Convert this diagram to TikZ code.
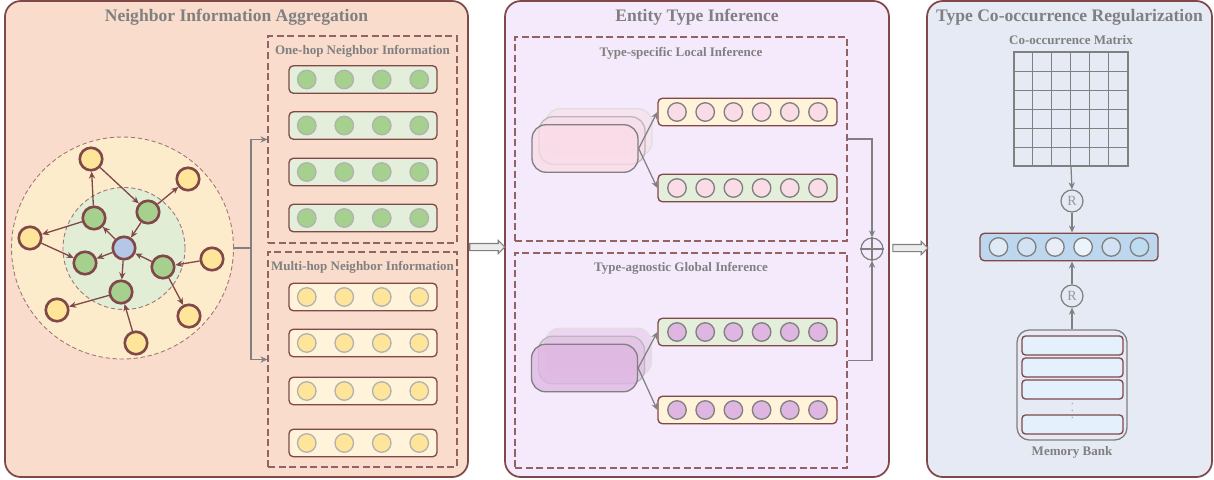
\documentclass[tikz,border=0pt]{standalone}
\usepackage{fontspec}
\setmainfont{Liberation Serif}
\definecolor{edgebrown}{RGB}{128, 72, 72}
\definecolor{titlegray}{RGB}{128, 128, 128}
\definecolor{aggbg}{RGB}{249, 220, 203}
\definecolor{infbg}{RGB}{244, 234, 252}
\definecolor{regbg}{RGB}{229, 234, 245}
\definecolor{nbgreen}{RGB}{166, 208, 141}
\definecolor{vecgreen}{RGB}{227, 239, 218}
\definecolor{nbyellow}{RGB}{255, 229, 153}
\definecolor{vecyellow}{RGB}{255, 243, 217}
\definecolor{hopouter}{RGB}{253, 236, 204}
\definecolor{hopinner}{RGB}{226, 237, 214}
\definecolor{centerblue}{RGB}{180, 199, 231}
\definecolor{localpink}{RGB}{250, 220, 230}
\definecolor{globalpurple}{RGB}{222, 182, 225}
\definecolor{vecblue}{RGB}{189, 215, 238}
\definecolor{slotblue}{RGB}{228, 240, 251}
\definecolor{tone1}{RGB}{222, 235, 247}
\definecolor{tone2}{RGB}{210, 226, 243}
\definecolor{tone3}{RGB}{232, 237, 247}
\definecolor{tone4}{RGB}{236, 244, 251}
\definecolor{tone5}{RGB}{189, 220, 240}
\usepackage{tikz}
\usetikzlibrary{shapes.arrows, arrows.meta, positioning, calc}

\begin{document}
\begin{tikzpicture}[
    panel/.style={draw=edgebrown, line width=1pt, rounded corners=9pt, minimum height=9.52cm},
    paneltitle/.style={font=\fontsize{10}{12}\selectfont\bfseries, text=titlegray},
    subtitle/.style={font=\fontsize{7.4}{9}\selectfont\bfseries, text=titlegray},
    dashbox/.style={draw=edgebrown!85, line width=0.6pt, dash pattern=on 4pt off 2pt},
    hopring/.style={circle, draw=edgebrown!75, line width=0.5pt, dash pattern=on 2.5pt off 1.5pt},
    vecbox/.style={draw=edgebrown, line width=0.75pt, rounded corners=2.5pt, minimum height=0.55cm},
    cell/.style={circle, draw=gray!60, line width=0.75pt, minimum size=0.37cm, inner sep=0pt},
    gnode/.style={circle, draw=edgebrown, line width=1.5pt, minimum size=0.45cm, inner sep=0pt},
    garrow/.style={-{Stealth[length=4pt, width=3.5pt]}, edgebrown, line width=0.75pt},
    flow/.style={-{Stealth[length=4pt, width=3.5pt]}, titlegray, line width=0.7pt},
    bigarrow/.style={single arrow, draw=gray, fill=gray!15, line width=0.6pt, minimum height=0.7cm, single arrow head extend=0.06cm, inner xsep=0pt, inner ysep=0.06cm},
    embed/.style={line width=0.75pt, rounded corners=8pt, minimum width=2.12cm, minimum height=0.95cm},
    rnode/.style={circle, draw=gray, line width=0.7pt, minimum size=0.44cm, inner sep=0pt, text=gray!80, font=\fontsize{8}{8}\selectfont},
    gridline/.style={gray, line width=0.75pt}
  ]
  \useasboundingbox (0, 0) rectangle (24.28, -9.58);

  % Three panels
  \node[panel, fill=aggbg, minimum width=9.26cm] (agg) at (4.73, -4.78) {};
  \node[panel, fill=infbg, minimum width=7.68cm] (inf) at (13.94, -4.78) {};
  \node[panel, fill=regbg, minimum width=5.70cm] (reg) at (21.39, -4.78) {};
  \node[paneltitle] (aggtitle) at ($(agg.north)+(0, -0.35)$) {Neighbor Information Aggregation};
  \node[paneltitle] (inftitle) at ($(inf.north)+(0, -0.35)$) {Entity Type Inference};
  \node[paneltitle] (regtitle) at ($(reg.north)+(0, -0.35)$) {Type Co-occurrence Regularization};

  % Neighbor graph
  \node[hopring, fill=hopouter, minimum size=4.44cm] (outer) at (2.45, -4.96) {};
  \node[hopring, fill=hopinner, minimum size=2.44cm] (inner) at (2.48, -4.97) {};
  \node[gnode, fill=centerblue] (ctr) at (2.48, -4.96) {};
  \foreach \name/\x/\y in {g1/1.88/-4.36, g2/2.96/-4.24, g3/1.70/-5.26, g4/3.26/-5.34, g5/2.42/-5.84}
    \node[gnode, fill=nbgreen] (\name) at (\x, \y) {};
  \foreach \name/\x/\y in {y1/1.82/-3.18, y2/3.76/-3.58, y3/0.60/-4.76, y4/4.24/-5.18, y5/1.14/-6.20, y6/3.78/-6.32, y7/2.72/-6.86}
    \node[gnode, fill=nbyellow] (\name) at (\x, \y) {};
  \foreach \a/\b in {ctr/g1, g2/ctr, ctr/g3, g4/ctr, ctr/g5, g1/y1, y1/g2, g2/y2, g1/y3, y3/g3, y4/g4, g4/y6, g5/y5, y7/g5}
    \draw[garrow] (\a) -- (\b);

  % One-hop and multi-hop neighbor vectors
  \node[dashbox, minimum width=3.78cm, minimum height=4.14cm] (onehop) at (7.25, -2.79) {};
  \node[subtitle] (onehoptitle) at ($(onehop.north)+(0, -0.31)$) {One-hop Neighbor Information};
  \node[dashbox, minimum width=3.78cm, minimum height=4.30cm] (multihop) at (7.25, -7.19) {};
  \node[subtitle] (multihoptitle) at ($(multihop.north)+(0, -0.31)$) {Multi-hop Neighbor Information};
  \foreach \i/\y in {1/-1.59, 2/-2.51, 3/-3.44, 4/-4.36} {
    \node[vecbox, fill=vecgreen, minimum width=2.96cm] (oh\i) at (7.26, \y) {};
    \foreach \j/\dx in {1/-1.125, 2/-0.375, 3/0.375, 4/1.125}
      \node[cell, fill=nbgreen] (oh\i-\j) at ($(oh\i)+(\dx, 0)$) {};
  }
  \foreach \i/\y in {1/-5.94, 2/-6.86, 3/-7.82, 4/-8.86} {
    \node[vecbox, fill=vecyellow, minimum width=2.96cm] (mh\i) at (7.26, \y) {};
    \foreach \j/\dx in {1/-1.125, 2/-0.375, 3/0.375, 4/1.125}
      \node[cell, fill=nbyellow] (mh\i-\j) at ($(mh\i)+(\dx, 0)$) {};
  }
  \draw[flow] (outer.east) -- ++(0.34, 0) coordinate (split) |- (onehop.west);
  \draw[flow] (split) |- (multihop.west);

  % Local and global inference
  \node[dashbox, minimum width=6.64cm, minimum height=4.08cm] (localbox) at (13.62, -2.78) {};
  \node[subtitle] (localtitle) at ($(localbox.north)+(0, -0.33)$) {Type-specific Local Inference};
  \node[dashbox, minimum width=6.64cm, minimum height=4.30cm] (globalbox) at (13.62, -7.21) {};
  \node[subtitle] (globaltitle) at ($(globalbox.north)+(0, -0.31)$) {Type-agnostic Global Inference};

  \node[embed, draw=gray!25, fill=localpink, fill opacity=0.5] (lemb3) at (11.98, -2.65) {};
  \node[embed, draw=gray!55, fill=localpink, fill opacity=0.6] (lemb2) at (11.84, -2.81) {};
  \node[embed, draw=gray, fill=localpink, fill opacity=0.75] (lemb1) at (11.70, -2.97) {};
  \node[embed, draw=gray!25, fill=globalpurple, fill opacity=0.4] (gemb3) at (11.97, -7.04) {};
  \node[embed, draw=gray!55, fill=globalpurple, fill opacity=0.5] (gemb2) at (11.83, -7.20) {};
  \node[embed, draw=gray, fill=globalpurple, fill opacity=0.75] (gemb1) at (11.69, -7.36) {};

  \foreach \v/\y/\bg/\fg in {lv1/-2.24/vecyellow/localpink, lv2/-3.76/vecgreen/localpink, gv1/-6.64/vecgreen/globalpurple, gv2/-8.20/vecyellow/globalpurple} {
    \node[vecbox, fill=\bg, minimum width=3.58cm] (\v) at (14.95, \y) {};
    \foreach \j/\dx in {1/-1.41, 2/-0.846, 3/-0.282, 4/0.282, 5/0.846, 6/1.41}
      \node[cell, draw=gray, fill=\fg] (\v-\j) at ($(\v)+(\dx, 0)$) {};
  }
  \draw[flow] (lemb1.east) -- (lv1.west);
  \draw[flow] (lemb1.east) -- (lv2.west);
  \draw[flow] (gemb1.east) -- (gv1.west);
  \draw[flow] (gemb1.east) -- (gv2.west);

  % Combine
  \node[circle, draw=gray, line width=0.7pt, minimum size=0.44cm, inner sep=0pt] (oplus) at (17.44, -4.98) {};
  \draw[gray, line width=0.7pt] (oplus.north) -- (oplus.south) (oplus.west) -- (oplus.east);
  \draw[flow] (localbox.east) -| (oplus.north);
  \draw[flow] (globalbox.east) -| (oplus.south);

  % Between panels
  \node[bigarrow] (hand1) at (9.71, -4.94) {};
  \node[bigarrow] (hand2) at (18.17, -4.96) {};

  % Co-occurrence matrix
  \node[draw=gray, line width=0.75pt, minimum width=2.28cm, minimum height=2.28cm, inner sep=0pt] (comat) at (21.42, -2.18) {};
  \draw[gridline, shift={(comat.south west)}, xstep=0.38, ystep=0.38] (0, 0) grid (2.28, 2.28);
  \node[subtitle, above=0pt of comat] (comattitle) {Co-occurrence Matrix};

  % Type vector
  \node[rnode] (rco) at (21.44, -4.02) {R};
  \node[vecbox, fill=vecblue, minimum width=3.56cm] (typevec) at (21.38, -4.94) {};
  \foreach \j/\dx/\tone in {1/-1.41/tone1, 2/-0.846/tone2, 3/-0.282/tone3, 4/0.282/tone4, 5/0.846/tone2, 6/1.41/tone5}
    \node[cell, draw=gray, fill=\tone] (typevec-\j) at ($(typevec)+(\dx, 0)$) {};
  \node[rnode] (rmem) at (21.44, -5.92) {R};
  \draw[flow] (comat.south) -- (rco.north);
  \draw[flow] (rco) -- (rco |- typevec.north);
  \draw[flow] (rmem) -- (rmem |- typevec.south);

  % Memory bank
  \node[draw=gray, line width=0.75pt, rounded corners=7pt, minimum width=2.2cm, minimum height=2.2cm] (membank) at (21.44, -7.7) {};
  \foreach \s/\y in {1/-6.91, 2/-7.35, 3/-7.79, 4/-8.49}
    \node[draw=edgebrown, line width=0.75pt, fill=slotblue, rounded corners=2pt, minimum width=2.02cm, minimum height=0.38cm] (slot\s) at (21.45, \y) {};
  \node[text=gray!70, font=\scriptsize, inner sep=0pt] (slotdots) at (21.45, -8.12) {$\vdots$};
  \node[subtitle, below=0pt of membank] (memtitle) {Memory Bank};
  \draw[flow] (membank.north) -- (rmem.south);
\end{tikzpicture}
\end{document}
